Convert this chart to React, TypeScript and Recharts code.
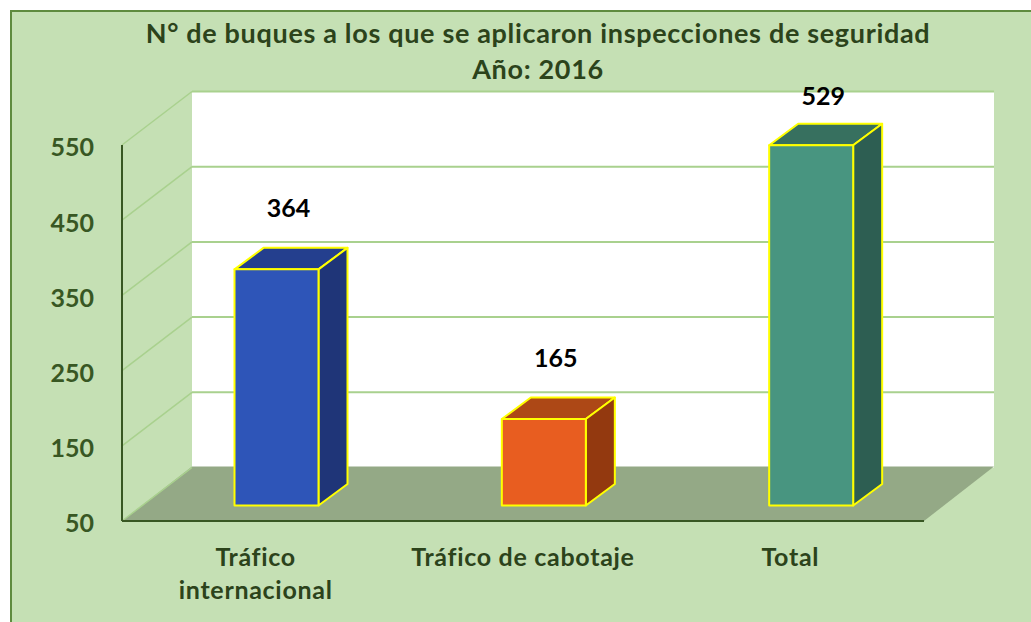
import { Bar, BarChart, CartesianGrid, LabelList, XAxis, YAxis } from 'recharts';

const categories = ['Tráfico internacional', 'Tráfico de cabotaje', 'Total'];
const tickLines = [['Tráfico', 'internacional'], ['Tráfico de cabotaje'], ['Total']];
const values = [364, 165, 529];
const yTicks = [50, 150, 250, 350, 450, 550];
const titleLines = ['N° de buques a los que se aplicaron inspecciones de seguridad', 'Año: 2016'];

const data = categories.map((name, i) => ({ name, value: values[i] }));

const FONT = 'Lato, sans-serif';
const BG = '#c5e0b4';
const GRID = '#a9d18e';
const AXIS = '#385723';
const TEXT_DARK = '#2c431b';

const frontColors = ['#2e55b8', '#e85d20', '#489580'];
const topColors = ['#243f8e', '#ad4816', '#37705f'];
const sideColors = ['#1f3578', '#93390f', '#2d5e52'];

// plot area on the front plane, and the "3d" depth
const PLOT = { left: 122, right: 924, top: 145, bottom: 521 };
const WALL_DX = 70;
const WALL_DY = 53.5;
const FLOOR_DY = 54.5;
const BAR_SHIFT_X = 20.5;
const BAR_SHIFT_Y = 15.5;
const BAR_DX = 29;
const BAR_DY = 21.5;

function Box(props: any) {
   const { x, y, width, height, index } = props;
   const x0 = x + BAR_SHIFT_X;
   const y0 = y - BAR_SHIFT_Y;
   const x1 = x0 + width;
   const y1 = y0 + height;
   const edge = { stroke: '#ffff00', strokeWidth: 2, strokeLinejoin: 'round' as const };
   return (
      <g>
         <polygon
            points={`${x0},${y0} ${x0 + BAR_DX},${y0 - BAR_DY} ${x1 + BAR_DX},${y0 - BAR_DY} ${x1},${y0}`}
            fill={topColors[index]}
            {...edge}
         />
         <polygon
            points={`${x1},${y0} ${x1 + BAR_DX},${y0 - BAR_DY} ${x1 + BAR_DX},${y1 - BAR_DY} ${x1},${y1}`}
            fill={sideColors[index]}
            {...edge}
         />
         <rect x={x0} y={y0} width={width} height={height} fill={frontColors[index]} {...edge} />
      </g>
   );
}

// each grid line runs up the side wall and then across the back wall
function WallLine(props: any) {
   const { x1, x2, y1 } = props;
   return (
      <g>
         <line x1={x1} y1={y1} x2={x1 + WALL_DX} y2={y1 - WALL_DY} stroke={GRID} strokeWidth={1.5} />
         {y1 < PLOT.bottom - 1 && (
            <line x1={x1 + WALL_DX} y1={y1 - WALL_DY} x2={x2 + WALL_DX} y2={y1 - WALL_DY} stroke={GRID} strokeWidth={2} />
         )}
      </g>
   );
}

function ValueLabel(props: any) {
   const { x, y, width, value } = props;
   return (
      <text
         x={x + width / 2 + BAR_SHIFT_X + 12}
         y={Math.max(y - BAR_SHIFT_Y - 62, 95)}
         textAnchor="middle"
         dominantBaseline="central"
         fontFamily={FONT}
         fontWeight={700}
         fontSize={25}
         fill="#000000"
      >
         {value}
      </text>
   );
}

function CategoryTick(props: any) {
   const { x, payload } = props;
   return (
      <text textAnchor="middle" fontFamily={FONT} fontWeight={700} fontSize={25} letterSpacing={0.7} fill={TEXT_DARK}>
         {tickLines[payload.index].map((line, i) => (
            <tspan key={line} x={x} y={566 + i * 33}>
               {line}
            </tspan>
         ))}
      </text>
   );
}

export default function App() {
   return (
      <div
         style={{
            position: 'absolute',
            left: 10,
            top: 10,
            width: 1021,
            height: 612,
            background: BG,
            borderLeft: '2px solid #5f8b3f',
            borderTop: '2px solid #5f8b3f',
            boxSizing: 'border-box',
         }}
      >
         {/* back wall and floor sit behind the chart, its grid draws below its own children */}
         <svg width={1031} height={622} style={{ position: 'absolute', left: -12, top: -12 }}>
            <rect
               x={PLOT.left + WALL_DX}
               y={PLOT.top - WALL_DY}
               width={PLOT.right - PLOT.left}
               height={PLOT.bottom - PLOT.top}
               fill="#ffffff"
            />
            <polygon
               points={`${PLOT.left},${PLOT.bottom} ${PLOT.left + WALL_DX},${PLOT.bottom - FLOOR_DY} ${PLOT.right + WALL_DX},${PLOT.bottom - FLOOR_DY} ${PLOT.right},${PLOT.bottom}`}
               fill="#94a986"
            />
         </svg>
         <div style={{ position: 'absolute', left: -12, top: -12 }}>
            <BarChart
               width={1031}
               height={622}
               data={data}
               barSize={84}
               margin={{ top: PLOT.top, right: 1031 - PLOT.right, bottom: 0, left: 0 }}
            >
               <CartesianGrid vertical={false} horizontal={WallLine} />
               <text textAnchor="middle" fontFamily={FONT} fontWeight={700} fontSize={27} letterSpacing={0.67} fill={TEXT_DARK}>
                  {titleLines.map((line, i) => (
                     <tspan key={line} x={538} y={43 + i * 36}>
                        {line}
                     </tspan>
                  ))}
               </text>
               <XAxis
                  dataKey="name"
                  height={622 - PLOT.bottom}
                  tickLine={false}
                  interval={0}
                  axisLine={{ stroke: AXIS, strokeWidth: 2 }}
                  tick={CategoryTick}
               />
               <YAxis
                  type="number"
                  domain={[50, 550]}
                  ticks={yTicks}
                  width={PLOT.left}
                  tickLine={false}
                  tickMargin={22}
                  axisLine={{ stroke: AXIS, strokeWidth: 2 }}
                  tick={{ fontFamily: FONT, fontWeight: 700, fontSize: 25, fill: AXIS, dy: 2.5 }}
               />
               <Bar dataKey="value" shape={Box} isAnimationActive={false}>
                  <LabelList dataKey="value" content={ValueLabel} />
               </Bar>
            </BarChart>
         </div>
      </div>
   );
}
